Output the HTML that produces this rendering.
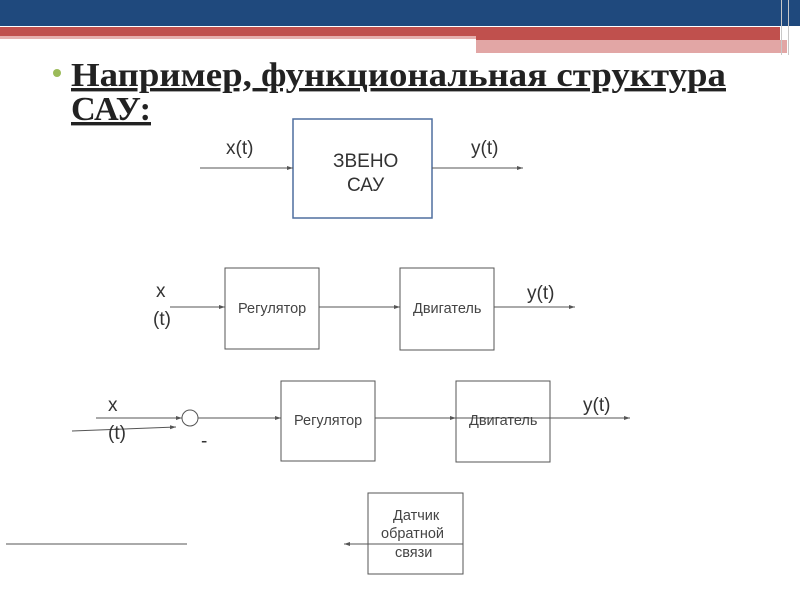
<!DOCTYPE html>
<html><head><meta charset="utf-8"><style>
body{margin:0;width:800px;height:600px;overflow:hidden;background:#fff;position:relative}
svg{position:absolute;left:0;top:0}
</style></head><body>
<svg width="800" height="600" viewBox="0 0 800 600" font-family="Liberation Sans, DejaVu Sans, sans-serif">
<defs><marker id="a" markerWidth="6" markerHeight="6" refX="6" refY="3" orient="auto"><path d="M0,1 L6,3 L0,5z" fill="#555"/></marker></defs>
<rect x="0" y="0" width="800" height="26" fill="#1f497d"/>
<rect x="0" y="27" width="780" height="9" fill="#c0504d"/>
<rect x="0" y="36" width="476" height="3" fill="#e6b0ae"/>
<rect x="476" y="36" width="304" height="4" fill="#c0504d"/>
<rect x="476" y="40" width="311" height="13" fill="#e2a6a5"/>
<rect x="781" y="0" width="1" height="55" fill="#c8c8c8"/>
<rect x="788" y="0" width="1" height="55" fill="#c8c8c8"/>
<circle cx="57" cy="73" r="4" fill="#9bbb59"/>
<g font-family="Liberation Serif, serif" font-weight="bold" font-size="34" fill="#222">
<text x="71" y="86" textLength="655" lengthAdjust="spacingAndGlyphs" text-decoration="underline">Например, функциональная структура</text>
<text x="71" y="120" textLength="80" lengthAdjust="spacingAndGlyphs" text-decoration="underline">САУ:</text>
</g>
<g stroke="#555" stroke-width="1" fill="none">
<rect x="293" y="119" width="139" height="99" stroke="#4f6f9f" stroke-width="1.5"/>
<line x1="200" y1="168" x2="293" y2="168" marker-end="url(#a)"/>
<line x1="432" y1="168" x2="523" y2="168" marker-end="url(#a)"/>
<rect x="225" y="268" width="94" height="81"/>
<rect x="400" y="268" width="94" height="82"/>
<line x1="170" y1="307" x2="225" y2="307" marker-end="url(#a)"/>
<line x1="319" y1="307" x2="400" y2="307" marker-end="url(#a)"/>
<line x1="494" y1="307" x2="575" y2="307" marker-end="url(#a)"/>
<rect x="281" y="381" width="94" height="80"/>
<rect x="456" y="381" width="94" height="81"/>
<circle cx="190" cy="418" r="8"/>
<line x1="96" y1="418" x2="182" y2="418" marker-end="url(#a)"/>
<line x1="72" y1="431" x2="176" y2="427" marker-end="url(#a)"/>
<line x1="198" y1="418" x2="281" y2="418" marker-end="url(#a)"/>
<line x1="375" y1="418" x2="456" y2="418" marker-end="url(#a)"/>
<line x1="456" y1="418" x2="630" y2="418" marker-end="url(#a)"/>
<rect x="368" y="493" width="95" height="81"/>
<line x1="463" y1="544" x2="344" y2="544" marker-end="url(#a)"/>
<line x1="6" y1="544" x2="187" y2="544"/>
</g>
<g fill="#333" font-size="19">
<text x="226" y="154">x(t)</text>
<text x="471" y="154">y(t)</text>
<text x="333" y="167">ЗВЕНО</text>
<text x="347" y="191">САУ</text>
<text x="156" y="297">x</text>
<text x="153" y="325">(t)</text>
<text x="527" y="299">y(t)</text>
<text x="108" y="411">x</text>
<text x="108" y="439">(t)</text>
<text x="583" y="411">y(t)</text>
<text x="201" y="447">-</text>
</g>
<g fill="#444" font-size="14.5">
<text x="238" y="313">Регулятор</text>
<text x="413" y="313">Двигатель</text>
<text x="294" y="425">Регулятор</text>
<text x="469" y="425">Двигатель</text>
<text x="393" y="520">Датчик</text>
<text x="381" y="538">обратной</text>
<text x="395" y="557">связи</text>
</g>
</svg>
</body></html>
